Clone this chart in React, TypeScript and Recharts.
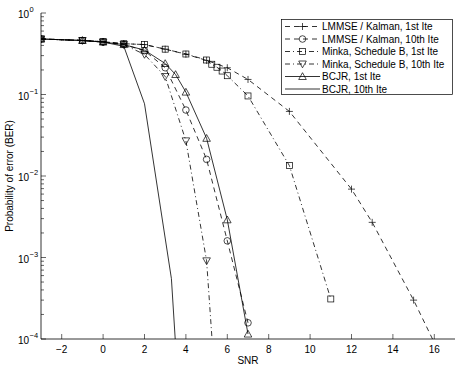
import React from 'react';
import { LineChart, Line, XAxis, YAxis, Legend } from 'recharts';

// ---- Data (SNR in dB, BER) ----
const snrLmmse1 = [-3, -1, 0, 1, 2, 3, 4, 5, 6, 7, 9, 12, 13, 15, 16];
const berLmmse1 = [0.48, 0.46, 0.445, 0.42, 0.41, 0.36, 0.312, 0.262, 0.213, 0.153, 0.062, 0.0069, 0.0027, 0.0003, 0.00009];

const snrLmmse10 = [-3, -1, 0, 1, 2, 3, 4, 5, 6, 7];
const berLmmse10 = [0.48, 0.46, 0.44, 0.41, 0.345, 0.213, 0.0645, 0.016, 0.0016, 0.000158];

const snrMinka1 = [-3, -1, 0, 1, 2, 3, 4, 5, 5.25, 5.5, 5.75, 6, 7, 9, 11];
const berMinka1 = [0.48, 0.46, 0.445, 0.42, 0.41, 0.36, 0.314, 0.265, 0.235, 0.216, 0.194, 0.17, 0.096, 0.0134, 0.00031];

const snrMinka10 = [-3, -1, 0, 1, 2, 3, 4, 5, 6];
const berMinka10 = [0.48, 0.46, 0.44, 0.41, 0.31, 0.166, 0.027, 0.00091, 0.0000002];

const snrBcjr1 = [-3, -1, 0, 1, 2, 3, 3.5, 4, 5, 6, 7];
const berBcjr1 = [0.48, 0.46, 0.44, 0.41, 0.35, 0.24, 0.176, 0.107, 0.029, 0.0029, 0.000115];

const snrBcjr10 = [-3, -1, 0, 1, 2, 3.3, 3.6];
const berBcjr10 = [0.48, 0.46, 0.44, 0.39, 0.077, 0.00055, 0.000034];

const xTicks = [-2, 0, 2, 4, 6, 8, 10, 12, 14, 16];
const decades = [1e-4, 1e-3, 1e-2, 1e-1, 1];
const decadeLabels = ['\u22124', '\u22123', '\u22122', '\u22121', '0'];

const zip = (xs: number[], ys: number[]) => xs.map((x, i) => ({ x, y: ys[i] }));

type MarkerKind = 'plus' | 'circle' | 'square' | 'down' | 'up' | 'none';

const series: { name: string; data: { x: number; y: number }[]; dash: string; marker: MarkerKind }[] = [
  { name: 'LMMSE / Kalman, 1st Ite', data: zip(snrLmmse1, berLmmse1), dash: '5 4', marker: 'plus' },
  { name: 'LMMSE / Kalman, 10th Ite', data: zip(snrLmmse10, berLmmse10), dash: '5 4', marker: 'circle' },
  { name: 'Minka, Schedule B, 1st Ite', data: zip(snrMinka1, berMinka1), dash: '5 3 1 3', marker: 'square' },
  { name: 'Minka, Schedule B, 10th Ite', data: zip(snrMinka10, berMinka10), dash: '5 3 1 3', marker: 'down' },
  { name: 'BCJR, 1st Ite', data: zip(snrBcjr1, berBcjr1), dash: '', marker: 'up' },
  { name: 'BCJR, 10th Ite', data: zip(snrBcjr10, berBcjr10), dash: '', marker: 'none' },
];

const yTicks: number[] = [];
for (let d = -4; d <= 0; d++) {
  for (let m = 1; m <= 9; m++) {
    const v = m * Math.pow(10, d);
    if (v <= 1.0000001) yTicks.push(v);
  }
}

const INK = '#000';
const FONT = '"Liberation Sans", Arial, Helvetica, sans-serif';

const Marker = ({ cx, cy, kind }: { cx: number; cy: number; kind: MarkerKind }) => {
  if (cx == null || cy == null || isNaN(cx) || isNaN(cy)) return null;
  const s = { stroke: INK, strokeWidth: 0.7, fill: 'none' } as const;
  switch (kind) {
    case 'plus':
      return (
        <g>
          <line x1={cx - 3.5} x2={cx + 3.5} y1={cy} y2={cy} {...s} />
          <line x1={cx} x2={cx} y1={cy - 3.5} y2={cy + 3.5} {...s} />
        </g>
      );
    case 'circle':
      return <circle cx={cx} cy={cy} r={3.3} {...s} />;
    case 'square':
      return <rect x={cx - 3} y={cy - 3} width={6} height={6} {...s} />;
    case 'down':
      return <polygon points={`${cx - 3.8},${cy - 3} ${cx + 3.8},${cy - 3} ${cx},${cy + 3.8}`} {...s} />;
    case 'up':
      return <polygon points={`${cx - 3.8},${cy + 3} ${cx + 3.8},${cy + 3} ${cx},${cy - 3.8}`} {...s} />;
    default:
      return null;
  }
};

const fmtX = (v: number) => (v < 0 ? '\u2212' + Math.abs(v) : String(v));

const BottomTick = (props: any) => {
  const { x, y, payload } = props;
  return (
    <g>
      <line x1={x} x2={x} y1={y} y2={y - 5} stroke={INK} strokeWidth={0.6} />
      <text x={x} y={y + 14} textAnchor="middle" fontSize={10} fontFamily={FONT} fill={INK}>
        {fmtX(payload.value)}
      </text>
    </g>
  );
};

const TopTick = (props: any) => {
  const { x, y } = props;
  return <line x1={x} x2={x} y1={y} y2={y + 5} stroke={INK} strokeWidth={0.6} />;
};

const isDecade = (v: number) => decades.some((d) => Math.abs(v - d) / d < 1e-6);

const LeftTick = (props: any) => {
  const { x, y, payload } = props;
  const v = payload.value as number;
  const major = isDecade(v);
  const idx = decades.findIndex((d) => Math.abs(v - d) / d < 1e-6);
  return (
    <g>
      <line x1={x} x2={x + (major ? 5 : 3)} y1={y} y2={y} stroke={INK} strokeWidth={0.6} />
      {major && (
        <text x={x - 12} y={y + 5} textAnchor="end" fontSize={10} fontFamily={FONT} fill={INK}>
          10
        </text>
      )}
      {major && (
        <text x={x - 11.5} y={y - 1} textAnchor="start" fontSize={7.5} fontFamily={FONT} fill={INK}>
          {decadeLabels[idx]}
        </text>
      )}
    </g>
  );
};

const RightTick = (props: any) => {
  const { x, y, payload } = props;
  const major = isDecade(payload.value);
  return <line x1={x} x2={x - (major ? 5 : 3)} y1={y} y2={y} stroke={INK} strokeWidth={0.6} />;
};

const LegendBox = () => {
  const w = 171;
  const rowH = 12.5;
  const h = 75;
  return (
    <svg width={w + 2} height={h + 2} style={{ display: 'block' }}>
      <rect x={0.5} y={0.5} width={w} height={h} fill="#fff" stroke={INK} strokeWidth={0.7} />
      {series.map((s, i) => {
        const cy = 7.5 + rowH * i;
        return (
          <g key={s.name}>
            <line x1={4} x2={39} y1={cy} y2={cy} stroke={INK} strokeWidth={0.8} strokeDasharray={s.dash || undefined} />
            <Marker cx={21.5} cy={cy} kind={s.marker} />
            <text x={41} y={cy + 3.6} fontSize={10} fontFamily={FONT} fill={INK}>
              {s.name}
            </text>
          </g>
        );
      })}
    </svg>
  );
};

export default function App() {
  return (
    <div style={{ position: 'absolute', left: 0, top: 0, width: 463, height: 367, background: '#fff' }}>
      <LineChart width={463} height={367} margin={{ top: 13, right: 8, bottom: 0, left: 0 }}>
        <XAxis
          dataKey="x"
          type="number"
          domain={[-3, 17]}
          ticks={xTicks}
          allowDataOverflow
          height={28}
          tickSize={0}
          tickMargin={0}
          tick={<BottomTick />}
          axisLine={{ stroke: INK, strokeWidth: 0.8 }}
          label={(p: any) => {
            const vb = p.viewBox || {};
            return (
              <text x={vb.x + vb.width / 2} y={vb.y + 25} textAnchor="middle" fontSize={10} fontFamily={FONT} fill={INK}>
                SNR
              </text>
            );
          }}
        />
        <XAxis
          xAxisId="top"
          orientation="top"
          dataKey="x"
          type="number"
          domain={[-3, 17]}
          ticks={xTicks}
          allowDataOverflow
          height={0}
          tickSize={0}
          tickMargin={0}
          tick={<TopTick />}
          axisLine={{ stroke: INK, strokeWidth: 0.8 }}
        />
        <YAxis
          scale="log"
          type="number"
          domain={[1e-4, 1]}
          ticks={yTicks}
          interval={0}
          allowDataOverflow
          width={41}
          tickSize={0}
          tickMargin={0}
          tick={<LeftTick />}
          axisLine={{ stroke: INK, strokeWidth: 0.8 }}
          label={(p: any) => {
            const vb = p.viewBox || {};
            const cx = 13;
            const cy = vb.y + vb.height / 2;
            return (
              <text
                x={cx}
                y={cy}
                transform={`rotate(-90 ${cx} ${cy})`}
                textAnchor="middle"
                fontSize={10}
                fontFamily={FONT}
                fill={INK}
              >
                Probability of error (BER)
              </text>
            );
          }}
        />
        <YAxis
          yAxisId="right"
          orientation="right"
          scale="log"
          type="number"
          domain={[1e-4, 1]}
          ticks={yTicks}
          interval={0}
          allowDataOverflow
          width={0}
          tickSize={0}
          tickMargin={0}
          tick={<RightTick />}
          axisLine={{ stroke: INK, strokeWidth: 0.8 }}
        />
        {series.map((s) => (
          <Line
            key={s.name}
            name={s.name}
            data={s.data}
            dataKey="y"
            type="linear"
            stroke={INK}
            strokeWidth={0.8}
            strokeDasharray={s.dash || undefined}
            isAnimationActive={false}
            dot={
              s.marker === 'none'
                ? false
                : (p: any) => <Marker key={`${s.name}-${p.index}`} cx={p.cx} cy={p.cy} kind={s.marker} />
            }
            activeDot={false}
          />
        ))}
        <Legend
          layout="vertical"
          align="center"
          verticalAlign="middle"
          content={() => <LegendBox />}
          wrapperStyle={{ left: 281, top: 19, width: 173, height: 77 }}
        />
      </LineChart>
    </div>
  );
}
